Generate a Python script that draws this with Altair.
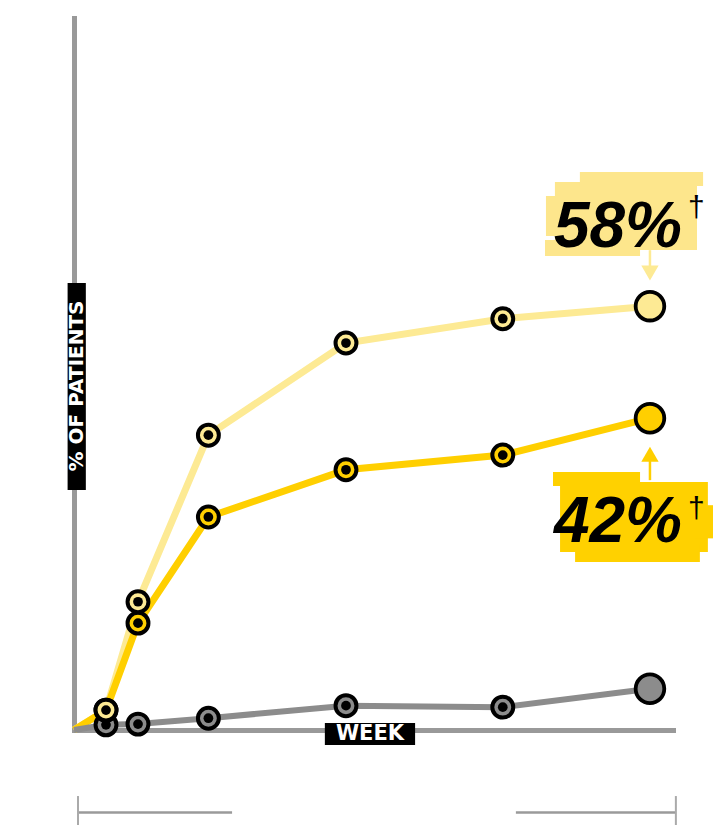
import altair as alt
import pandas as pd

# ---------------- data ----------------
weeks = [0, 1, 2, 4.2, 8.5, 13.4, 18]
light_vals = [0, 2.7, 17.4, 40.0, 52.5, 55.8, 57.5]
gold_vals = [0, 2.7, 14.5, 28.9, 35.3, 37.3, 42.3]
gray_vals = [0, 0.7, 0.8, 1.6, 3.3, 3.1, 5.6]

series = {
    "light": light_vals,
    "gold": gold_vals,
    "gray": gray_vals,
}
colors = {"light": "#FDEA94", "gold": "#FFCF00", "gray": "#8C8C8C"}

X_DOMAIN = [0, 18.72]
Y_DOMAIN = [0, 96.6]

xs = alt.Scale(domain=X_DOMAIN, nice=False, zero=False)
ys = alt.Scale(domain=Y_DOMAIN, nice=False, zero=False)
AX = alt.Axis(domain=True, domainColor="#999999", domainWidth=5, domainCap="square",
              ticks=False, labels=False, grid=False, title=None)


def X(f):
    return alt.X(f, scale=xs, axis=AX)


def Y(f):
    return alt.Y(f, scale=ys, axis=AX)


def frame(name):
    vals = series[name]
    n = len(weeks)
    role = ["origin"] + ["mid"] * (n - 2) + ["end"]
    return pd.DataFrame({"week": weeks, "pct": vals, "role": role, "series": name})


def enc(ch):
    return ch.encode(x=X("week:Q"), y=Y("pct:Q"))


layers = []

# annotation highlight boxes (brush-like)
box58 = pd.DataFrame({
    "x": [15.03, 15.81, 14.72, 14.75],
    "x2": [19.47, 19.66, 17.69, 15.34],
    "y": [74.36, 75.71, 66.49, 72.46],
    "y2": [65.13, 73.81, 64.31, 67.03],
})
box42 = pd.DataFrame({
    "x": [15.19, 14.97, 19.4, 15.66],
    "x2": [19.81, 17.69, 19.97, 19.56],
    "y": [33.65, 35.01, 30.5, 25.10],
    "y2": [24.15, 33.11, 26.0, 22.80],
})
for bdf, col in [(box58, "#FDE68C"), (box42, "#FFD100")]:
    layers.append(
        alt.Chart(bdf).mark_rect(color=col, opacity=1).encode(
            x=X("x:Q"), x2="x2:Q", y=Y("y:Q"), y2="y2:Q")
    )

# arrows
arrow_lines = pd.DataFrame({"x": [18, 18], "y": [65.1, 36.9], "y2": [62.7, 33.9]})
for i, name in enumerate(["light", "gold"]):
    layers.append(
        alt.Chart(arrow_lines.iloc[[i]]).mark_rule(color=colors[name], strokeWidth=2.5).encode(
            x=X("x:Q"), y=Y("y:Q"), y2="y2:Q")
    )
arrow_heads = pd.DataFrame({"x": [18, 18], "y": [62.0, 37.4]})
layers.append(
    alt.Chart(arrow_heads.iloc[[0]]).mark_point(shape="triangle-down", filled=True, size=300,
                                                color=colors["light"], opacity=1).encode(
        x=X("x:Q"), y=Y("y:Q"))
)
layers.append(
    alt.Chart(arrow_heads.iloc[[1]]).mark_point(shape="triangle-up", filled=True, size=300,
                                                color=colors["gold"], opacity=1).encode(
        x=X("x:Q"), y=Y("y:Q"))
)

# lines
for name in ["light", "gold", "gray"]:
    layers.append(
        enc(alt.Chart(frame(name)).mark_line(color=colors[name],
                                             strokeWidth=7 if name != "gray" else 6))
    )

# markers (gray below, light on top)
for name in ["gray", "gold", "light"]:
    df = frame(name)
    mids = df[df.role == "mid"]
    end = df[df.role == "end"]
    layers.append(enc(alt.Chart(mids).mark_circle(size=437, color=colors[name], opacity=1,
                                                   stroke="black", strokeWidth=4)))
    layers.append(enc(alt.Chart(mids).mark_circle(size=95, color="black", opacity=1)))
    layers.append(enc(alt.Chart(end).mark_circle(size=820, color=colors[name], opacity=1,
                                                  stroke="black", strokeWidth=3.8)))

# big percentage labels
labels = pd.DataFrame({"x": [17.0, 17.0], "y": [65.5, 25.5], "t": ["58%", "42%"]})
layers.append(
    alt.Chart(labels).mark_text(font="Liberation Sans", fontStyle="italic", fontWeight="bold",
                                fontSize=64, align="center", baseline="alphabetic",
                                color="black").encode(
        x=X("x:Q"), y=Y("y:Q"), text="t:N")
)
daggers = pd.DataFrame({"x": [19.45, 19.45], "y": [69.6, 28.8], "t": ["†", "†"]})
layers.append(
    alt.Chart(daggers).mark_text(font="Liberation Sans", fontSize=30, align="center",
                                 baseline="alphabetic", color="black").encode(
        x=X("x:Q"), y=Y("y:Q"), text="t:N")
)

# axis title boxes
title_boxes = pd.DataFrame({
    "x": [-0.2, 7.84], "x2": [0.37, 10.66],
    "y": [60.65, 0.95], "y2": [32.56, -2.04],
})
layers.append(
    alt.Chart(title_boxes).mark_rect(color="black").encode(
        x=X("x:Q"), x2="x2:Q", y=Y("y:Q"), y2="y2:Q")
)
ytitle = pd.DataFrame({"x": [0.094], "y": [46.68], "t": ["% OF PATIENTS"]})
layers.append(
    alt.Chart(ytitle).mark_text(font="DejaVu Sans", fontWeight="bold", fontSize=20, angle=270,
                                align="center", baseline="middle", color="white").encode(
        x=X("x:Q"), y=Y("y:Q"), text="t:N")
)
xtitle = pd.DataFrame({"x": [9.25], "y": [-0.55], "t": ["WEEK"]})
layers.append(
    alt.Chart(xtitle).mark_text(font="DejaVu Sans", fontWeight="bold", fontSize=21,
                                align="center", baseline="middle", color="white").encode(
        x=X("x:Q"), y=Y("y:Q"), text="t:N")
)

# bottom bracket
bracket_h = pd.DataFrame({"x": [0.125, 13.81], "x2": [4.94, 18.81], "y": [-11.19, -11.19]})
bracket_v = pd.DataFrame({"x": [0.125, 18.81], "y": [-8.96, -8.96], "y2": [-13.43, -13.43]})
layers.append(
    alt.Chart(bracket_h).mark_rule(color="#9a9a9a", strokeWidth=2.5).encode(
        x=X("x:Q"), x2="x2:Q", y=Y("y:Q"))
)
layers.append(
    alt.Chart(bracket_v).mark_rule(color="#aaaaaa", strokeWidth=2).encode(
        x=X("x:Q"), y=Y("y:Q"), y2="y2:Q")
)

chart = alt.layer(*layers).properties(
    width=599, height=712,
    padding={"left": 66, "top": 10, "right": 41, "bottom": 95},
    autosize=alt.AutoSizeParams(type="none"),
).configure(background="white").configure_view(stroke=None)

chart.save("out.html", embed_options={"renderer": "svg", "actions": False})
